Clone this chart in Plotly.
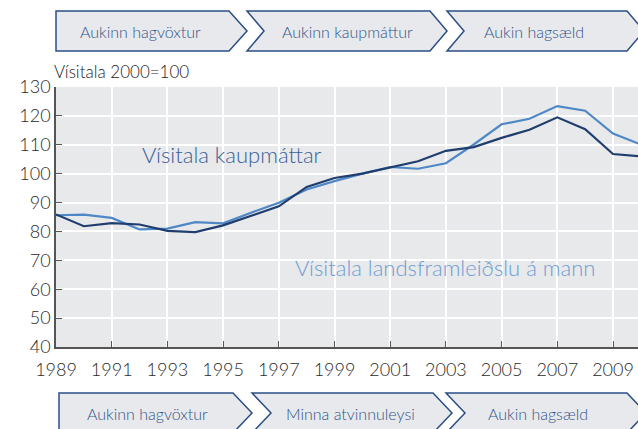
import plotly.graph_objects as go

years = list(range(1989, 2011))
kaupmattur = [85.9, 81.8, 82.9, 82.4, 80.2, 79.8, 82.1, 85.5, 88.7, 95.4, 98.5, 100.0,
              102.1, 104.3, 107.9, 109.2, 112.4, 115.2, 119.5, 115.4, 106.8, 106.0]
vlf_mann = [85.6, 85.8, 84.7, 80.7, 81.0, 83.2, 82.8, 86.5, 89.9, 94.5, 97.4, 100.0,
            102.3, 101.7, 103.6, 110.1, 117.1, 119.0, 123.4, 121.8, 113.9, 110.1]

top_steps = ["Aukinn hagvöxtur", "Aukinn kaupmáttur", "Aukin hagsæld"]
bottom_steps = ["Aukinn hagvöxtur", "Minna atvinnuleysi", "Aukin hagsæld"]
label_kaup = "Vísitala kaupmáttar"
label_vlf = "Vísitala landsframleiðslu á mann"
unit_label = "Vísitala 2000=100"

W, H = 638, 429
L, R, T, B = 56, 0, 87, 82
PW = W - L - R
PH = H - T - B

FONT = "Lato"
WEIGHT = 300
DARK = "#1F3D6E"
LIGHT = "#4F88C6"


def px(x):
    return (x - L) / PW


def py(y):
    return (H - B - y) / PH


def chevron(x0, x1, top, bot, depth, notch):
    mid = (top + bot) / 2
    pts = [(x0, top), (x1, top), (x1 + depth, mid), (x1, bot), (x0, bot)]
    if notch:
        pts.append((x0 + depth, mid))
    d = "M " + " L ".join(f"{px(a):.5f},{py(b):.5f}" for a, b in pts) + " Z"
    return dict(type="path", xref="paper", yref="paper", path=d,
                fillcolor="#E7E9EC", line=dict(color="#2B4F85", width=1.5), layer="above")


fig = go.Figure()
fig.add_trace(go.Scatter(x=years, y=vlf_mann, mode="lines", line=dict(color=LIGHT, width=2.2),
                         name=label_vlf, showlegend=False))
fig.add_trace(go.Scatter(x=years, y=kaupmattur, mode="lines", line=dict(color=DARK, width=2.2),
                         name=label_kaup, showlegend=False))

shapes = []
# top row
shapes.append(chevron(56, 229, 11, 51, 18, False))
shapes.append(chevron(247, 430, 11, 51, 17, True))
shapes.append(chevron(447, 627, 11, 51, 17, True))
# bottom row
shapes.append(chevron(59, 233, 393, 433, 19, False))
shapes.append(chevron(252, 433, 393, 433, 19, True))
shapes.append(chevron(446, 627, 393, 433, 19, True))

ann = []
box_font = dict(family=FONT, size=16, color="#33548A", weight=WEIGHT)
for txt, cx in zip(top_steps, [140, 347, 534]):
    ann.append(dict(text=txt, x=px(cx), y=py(31), xref="paper", yref="paper",
                    showarrow=False, xanchor="center", yanchor="middle", font=box_font))
for txt, cx in zip(bottom_steps, [147, 350, 538]):
    ann.append(dict(text=txt, x=px(cx), y=py(413), xref="paper", yref="paper",
                    showarrow=False, xanchor="center", yanchor="middle", font=box_font))
ann.append(dict(text=unit_label, x=px(52), y=py(71), xref="paper", yref="paper",
                showarrow=False, xanchor="left", yanchor="middle",
                font=dict(family=FONT, size=17, color="#222222", weight=WEIGHT)))
ann.append(dict(text=label_kaup, x=px(140), y=py(154), xref="paper", yref="paper",
                showarrow=False, xanchor="left", yanchor="middle",
                font=dict(family=FONT, size=22, color="#3A6098", weight=WEIGHT)))
ann.append(dict(text=label_vlf, x=px(293), y=py(267), xref="paper", yref="paper",
                showarrow=False, xanchor="left", yanchor="middle",
                font=dict(family=FONT, size=22, color="#6E9DD3", weight=WEIGHT)))

fig.update_layout(
    width=W, height=H,
    margin=dict(l=L, r=R, t=T, b=B, pad=0),
    paper_bgcolor="white",
    plot_bgcolor="#E8E9EB",
    font=dict(family=FONT, size=18, color="#2A2A2A", weight=WEIGHT),
    shapes=shapes,
    annotations=ann,
    showlegend=False,
)
fig.update_xaxes(range=[1989, 1989 + PW / 27.85], tick0=1989, dtick=2,
                 showgrid=True, gridcolor="white", gridwidth=1.5,
                 showline=True, linecolor="#555555", linewidth=1.5,
                 ticks="inside", ticklen=6, tickcolor="#555555",
                 ticklabelstandoff=6,
                 zeroline=False, fixedrange=True)
fig.update_yaxes(range=[40, 130], tick0=40, dtick=10,
                 showgrid=True, gridcolor="white", gridwidth=1.5,
                 showline=True, linecolor="#555555", linewidth=1.5,
                 ticks="inside", ticklen=6, tickcolor="#555555",
                 zeroline=False, fixedrange=True)

fig.write_html("out.html", config=dict(displayModeBar=False),
               post_script="document.body.style.margin='0';document.body.style.padding='0';")
